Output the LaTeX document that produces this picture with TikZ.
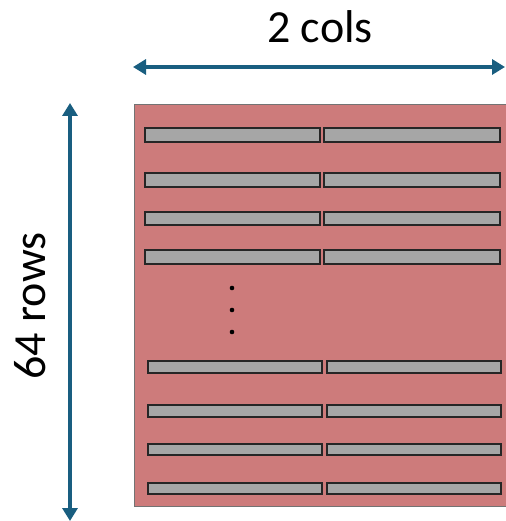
\documentclass[tikz,border=0pt]{standalone}
\usepackage{fontspec}
\setmainfont{Carlito}
\usetikzlibrary{arrows.meta}
\definecolor{bank}{RGB}{205,123,123}
\definecolor{cellgray}{RGB}{166,166,166}
\definecolor{dimblue}{RGB}{25,94,128}
\tikzset{
  cell/.style={draw=black!85, line width=1.6pt, fill=cellgray, inner sep=0pt},
  dimarrow/.style={draw=dimblue, line width=3.6pt,
    {Triangle[width=15pt,length=13pt]}-{Triangle[width=15pt,length=13pt]}},
  dimlabel/.style={font=\fontsize{46}{50}\selectfont, inner sep=0pt},
  gap/.style={circle, fill=black, inner sep=0pt, minimum size=4.6pt}
}
\begin{document}
\begin{tikzpicture}[x=1pt,y=-1pt]
\useasboundingbox (0,0) rectangle (505,521);
% memory array
\fill[bank, draw=black!55, line width=0.8pt] (134,104) rectangle (520,506);
% upper rows
\foreach \t/\b [count=\i] in {127/141,172/186,211/224,249/263}{
  \node[cell, minimum width=175pt, minimum height={\b-\t}, anchor=north west] (l\i) at (144,\t) {};
  \node[cell, minimum width=176pt, minimum height={\b-\t}, anchor=north west] (r\i) at (323,\t) {};
}
% lower rows
\foreach \t/\b [count=\i from 5] in {360/372,404/416,443/454,482/493}{
  \node[cell, minimum width=174pt, minimum height={\b-\t}, anchor=north west] (l\i) at (147,\t) {};
  \node[cell, minimum width=174pt, minimum height={\b-\t}, anchor=north west] (r\i) at (326,\t) {};
}
% elided rows
\node[gap] (d1) at (232,288) {};
\node[gap] (d2) at (232,310) {};
\node[gap] (d3) at (232,332) {};
% dimensions
\coordinate (hl) at (133,67);
\coordinate (hr) at (505,67);
\coordinate (vt) at (70,103);
\coordinate (vb) at (70,521);
\draw[dimarrow] (hl) -- (hr);
\draw[dimarrow] (vt) -- (vb);
\node[dimlabel, anchor=base] (cols) at (320,43) {2 cols};
\node[dimlabel, anchor=base, rotate=90] (rows) at (45,306) {64 rows};
\end{tikzpicture}
\end{document}
